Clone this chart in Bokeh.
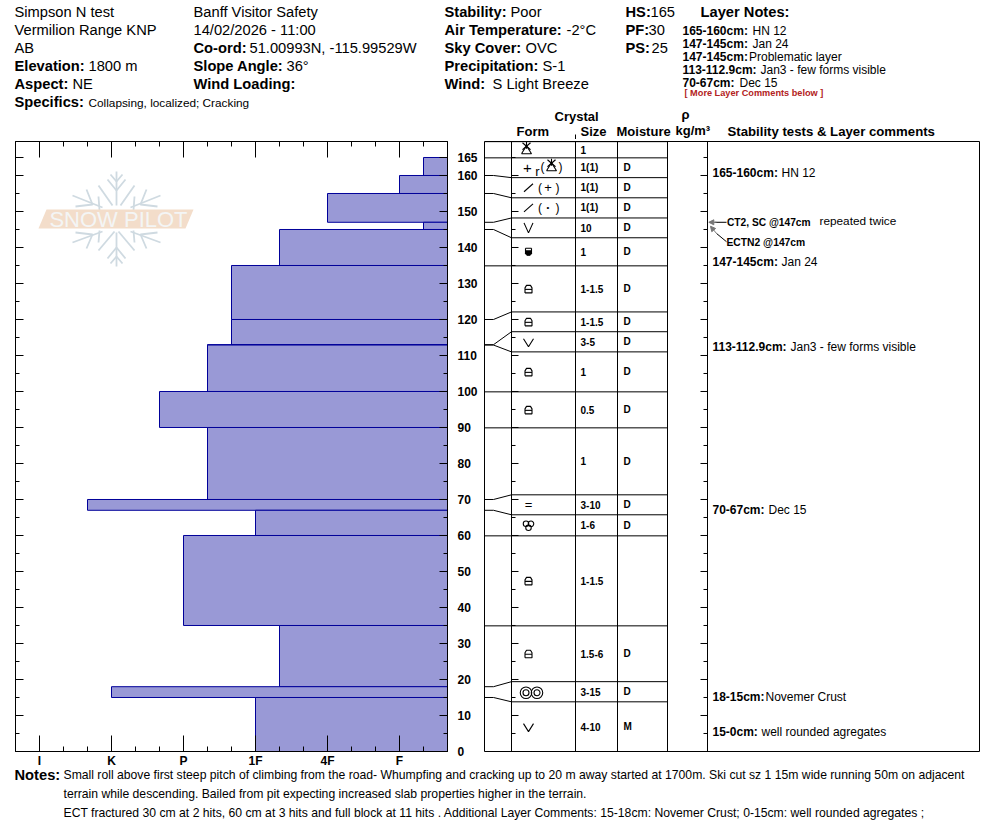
from bokeh.plotting import figure
from bokeh.layouts import column, row
from bokeh.models import Range1d, LinearAxis, FixedTicker, Arrow, NormalHead
from bokeh.core.properties import value
from bokeh.embed import file_html
from bokeh.resources import INLINE

FONT = "Liberation Sans"
INK = "#000000"

# ---------- data ----------
layer_top = [165, 160, 155, 147, 145, 135, 120, 113, 112.9, 100, 90, 70, 67, 60, 35, 18, 15]
layer_bottom = [160, 155, 147, 145, 135, 120, 113, 112.9, 100, 90, 70, 67, 60, 35, 18, 15, 0]
hardness = [16, 15, 12, 16, 10, 8, 8, 7, 7, 5, 7, 2, 9, 6, 10, 3, 9]
hardness_ticks = [0, 3, 6, 9, 12, 15]
hardness_labels = ["I", "K", "P", "1F", "4F", "F"]
hardness_minor = [1, 2, 4, 5, 7, 8, 10, 11, 13, 14, 16]
depth_major = [0, 10, 20, 30, 40, 50, 60, 70, 80, 90, 100, 110, 120, 130, 140, 150, 160, 165]
depth_minor = [5, 15, 25, 35, 45, 55, 65, 75, 85, 95, 105, 115, 125, 135, 145, 155]
depth_labels = {165: "165", 160: "160", 150: "150", 140: "140", 130: "130", 120: "120", 110: "110",
                100: "100", 90: "90", 80: "80", 70: "70", 60: "60", 50: "50", 40: "40", 30: "30",
                20: "20", 10: "10", 0: "0"}

# table row boundaries (cm on the shared depth scale, rows have a minimum display height)
row_edges = [169.4, 164.9, 159.4, 153.8, 148.2, 142.7, 134.9, 122.1, 116.6, 111.0,
             99.9, 89.9, 71.3, 65.75, 59.9, 34.9, 19.4, 13.8, 0]
sizes = ["1", "1(1)", "1(1)", "1(1)", "10", "1", "1-1.5", "1-1.5", "3-5", "1", "0.5", "1",
         "3-10", "1-6", "1-1.5", "1.5-6", "3-15", "4-10"]
moisture = ["", "D", "D", "D", "D", "D", "D", "D", "D", "D", "D", "D", "D", "D", "", "D", "D", "M"]
forms = ["star", "plus_star", "slash_plus", "slash_dot", "bigv", "cup", "lock", "lock", "v", "lock",
         "lock", "", "eq", "clover", "lock", "lock", "rings", "v"]
# connector: layer depth -> table edge
conn_from = [160, 155, 147, 145, 120, 113, 112.9, 70, 67, 18, 15]
conn_to = [159.4, 153.8, 148.2, 142.7, 122.1, 116.6, 111.0, 71.3, 65.75, 19.4, 13.8]
straight_edges = [169.4, 164.9, 134.9, 99.9, 89.9, 59.9, 34.9, 0]

comments = [(160.6, "165-160cm:", "HN 12", 781), (135.9, "147-145cm:", "Jan 24", 781),
            (112.3, "113-112.9cm:", "Jan3 - few forms visible", 790), (67.1, "70-67cm:", "Dec 15", 768),
            (15.2, "18-15cm:", "Novemer Crust", 765), (5.3, "15-0cm:", "well rounded agregates", 761)]

H, N = 14.7, 12
header = [
    (14, 12, "Simpson N test", False, H), (14, 30, "Vermilion Range KNP", False, H), (14, 48, "AB", False, H),
    (14, 66, "Elevation:", True, H), (88, 66, "1800 m", False, H),
    (14, 84, "Aspect:", True, H), (72, 84, "NE", False, H),
    (14, 102, "Specifics:", True, H), (88, 103, "Collapsing, localized; Cracking", False, 11.8),
    (193, 12, "Banff  Visitor Safety", False, H), (193, 30, "14/02/2026 - 11:00", False, H),
    (193, 48, "Co-ord:", True, H), (249, 48, "51.00993N, -115.99529W", False, H),
    (193, 66, "Slope Angle:", True, H), (286, 66, "36\u00b0", False, H),
    (193, 84, "Wind Loading:", True, H),
    (444, 12, "Stability:", True, H), (510, 12, "Poor", False, H),
    (444, 30, "Air Temperature:", True, H), (566, 30, "-2\u00b0C", False, H),
    (444, 48, "Sky Cover:", True, H), (525, 48, "OVC", False, H),
    (444, 66, "Precipitation:", True, H), (542, 66, "S-1", False, H),
    (444, 84, "Wind:", True, H), (492, 84, "S Light Breeze", False, H),
    (625, 12, "HS:", True, H), (650, 12, "165", False, H),
    (625, 30, "PF:", True, H), (648, 30, "30", False, H),
    (625, 48, "PS:", True, H), (651, 48, "25", False, H),
    (700, 12, "Layer Notes:", True, H),
    (682, 31, "165-160cm:", True, N), (752, 31, "HN 12", False, N),
    (682, 44, "147-145cm:", True, N), (752, 44, "Jan 24", False, N),
    (682, 57, "147-145cm:", True, N), (748.5, 57, "Problematic layer", False, N),
    (682, 70, "113-112.9cm:", True, N), (760, 70, "Jan3 - few forms visible", False, N),
    (682, 83, "70-67cm:", True, N), (739, 83, "Dec 15", False, N),
]
red_note = "[ More Layer Comments below ]"
col_heads = [(554, 117, "Crystal"), (516, 132, "Form"), (580, 132, "Size"), (616, 132, "Moisture"),
             (681, 115, "\u03c1"), (675, 131, "kg/m\u00b3"), (727, 132, "Stability tests & Layer comments")]

notes_label = "Notes:"
notes_lines = [
    (775, "Small roll above first steep pitch of climbing from the road- Whumpfing and cracking up to 20 m away started at 1700m. Ski cut sz 1 15m wide running 50m on adjacent"),
    (794, "terrain while descending.  Bailed from pit expecting increased slab properties higher in the terrain."),
    (813, "ECT fractured 30 cm at 2 hits, 60 cm at 3 hits and full block at 11 hits . Additional Layer Comments: 15-18cm: Novemer Crust; 0-15cm: well rounded agregates ;"),
]


def px_fig(width, height, x0, x1, y0, y1):
    f = figure(width=width, height=height, x_range=Range1d(x0, x1), y_range=Range1d(y1, y0),
               toolbar_location=None, output_backend="svg", min_border=0,
               x_axis_type=None, y_axis_type=None, outline_line_color=None)
    f.grid.visible = False
    return f


def put_text(f, xs, ys, texts, size, bold=False, color=INK, align="left", baseline="middle", **kw):
    f.text(x=xs, y=ys, text=texts, text_font=value(FONT), text_font_size=f"{size}px",
           text_font_style="bold" if bold else "normal", text_color=color,
           text_align=align, text_baseline=baseline, **kw)


# ---------- header (page y 0..139, drawn one pixel higher for the font's baseline) ----------
head = px_fig(990, 139, 0, 990, 1, 140)
for x, y, t, b, s in header:
    put_text(head, [x], [y], [t], s, bold=b)
put_text(head, [684], [93], [red_note], 9.2, bold=True, color="#b22222")
for x, y, t in col_heads:
    put_text(head, [x], [y], [t], 13.2 if x == 727 else 13, bold=True)
head.segment([575], [135], [575], [140], line_color=INK, line_width=1)

# ---------- profile ----------
prof = figure(width=484, height=629, x_range=Range1d(-1, 17), y_range=Range1d(0, 169.44),
              toolbar_location=None, output_backend="svg", x_axis_type=None, y_axis_type=None,
              min_border_left=15, min_border_right=37, min_border_top=2, min_border_bottom=17,
              frame_width=432, frame_height=610, outline_line_color=INK)
prof.grid.visible = False

# watermark on its own pixel scale
prof.extra_x_ranges["wx"] = Range1d(15, 447)
prof.extra_y_ranges["wy"] = Range1d(751, 141)
cx = 116
arms = [[(cx, 171), (cx, 205)], [(cx - 9, 179), (cx, 190), (cx + 9, 179)], [(cx - 6, 174), (cx, 181), (cx + 6, 174)],
        [(cx - 18, 185), (cx - 4, 205)], [(cx + 18, 185), (cx + 4, 205)],
        [(cx, 266), (cx, 232)], [(cx - 9, 258), (cx, 247), (cx + 9, 258)], [(cx - 6, 263), (cx, 256), (cx + 6, 263)],
        [(cx - 18, 250), (cx - 2, 231)], [(cx + 18, 250), (cx + 2, 231)],
        [(72, 195), (102, 207)], [(75, 206), (92, 204), (86, 189)], [(98, 196), (99, 210)],
        [(160, 195), (130, 207)], [(157, 206), (140, 204), (146, 189)], [(134, 196), (133, 210)],
        [(72, 242), (102, 231)], [(75, 232), (92, 234), (86, 248)], [(98, 242), (99, 230)],
        [(160, 242), (130, 231)], [(157, 232), (140, 234), (146, 248)], [(134, 242), (133, 230)]]
prof.multi_line([[p[0] for p in l] for l in arms], [[p[1] for p in l] for l in arms],
                line_color="#cfdae1", line_width=1.8, x_range_name="wx", y_range_name="wy")
prof.patch([46, 193, 185, 38], [209, 209, 228, 228], fill_color="#f3ddca", line_color=None,
           x_range_name="wx", y_range_name="wy")
put_text(prof, [118], [219], ["SNOW PILOT"], 22, color="#f4f5f5", align="center", x_range_name="wx", y_range_name="wy")

prof.quad(left=hardness, right=[17] * len(hardness), top=layer_top, bottom=layer_bottom,
          fill_color="#9999d6", line_color="#000099", line_width=1)

tick_font = dict(major_label_text_font=FONT, major_label_text_font_style="bold",
                 major_label_text_color=INK, major_label_text_font_size="12px",
                 axis_line_color=INK, major_tick_line_color=INK, minor_tick_line_color=INK)
no_x = {t: "" for t in hardness_ticks}
no_y = {t: "" for t in depth_major}

bottom = LinearAxis(ticker=FixedTicker(ticks=hardness_ticks, minor_ticks=hardness_minor),
                    major_label_overrides=dict(zip(hardness_ticks, hardness_labels)),
                    major_tick_in=16, major_tick_out=0, minor_tick_in=5, minor_tick_out=0,
                    major_label_standoff=2, **tick_font)
top = LinearAxis(ticker=FixedTicker(ticks=hardness_ticks, minor_ticks=hardness_minor),
                 major_label_overrides=no_x, major_tick_in=16, major_tick_out=0,
                 minor_tick_in=5, minor_tick_out=0, axis_line_color=INK, major_label_standoff=0)
left = LinearAxis(ticker=FixedTicker(ticks=depth_major, minor_ticks=depth_minor),
                  major_label_overrides=no_y, major_tick_in=8, major_tick_out=0,
                  minor_tick_in=4, minor_tick_out=0, axis_line_color=INK, major_label_standoff=0)
right = LinearAxis(ticker=FixedTicker(ticks=depth_major, minor_ticks=depth_minor),
                   major_label_overrides=depth_labels, major_tick_in=8, major_tick_out=0,
                   minor_tick_in=4, minor_tick_out=0, major_label_standoff=10, **tick_font)
prof.add_layout(bottom, "below")
prof.add_layout(top, "above")
prof.add_layout(left, "left")
prof.add_layout(right, "right")

# ---------- table ----------
tab = figure(width=506, height=629, x_range=Range1d(484, 979), y_range=Range1d(0, 169.44),
             toolbar_location=None, output_backend="svg", x_axis_type=None, y_axis_type=None,
             min_border_left=0, min_border_right=11, min_border_top=2, min_border_bottom=17,
             frame_width=495, frame_height=610, outline_line_color=INK)
tab.grid.visible = False

X_FORM, X_SIZE, X_MOIST, X_DENS, X_COMM = 511, 575, 617, 667, 707
for xv in (X_FORM, X_SIZE, X_MOIST, X_DENS, X_COMM):
    tab.segment([xv], [0], [xv], [169.44], line_color=INK, line_width=1)
# horizontal edges
tab.segment([X_FORM] * len(row_edges), row_edges, [X_DENS] * len(row_edges), row_edges, line_color=INK)
tab.segment([484] * len(straight_edges), straight_edges, [X_FORM] * len(straight_edges), straight_edges, line_color=INK)
# connectors
tab.multi_line([[484, 493, X_FORM] for _ in conn_from],
               [[a, a, b] for a, b in zip(conn_from, conn_to)], line_color=INK)
# ticks on the form and density columns
t10 = [d for d in depth_major if d % 10 == 0 and d > 0]
t5 = depth_minor + [165]
tab.segment([X_FORM] * len(t10), t10, [X_FORM + 7] * len(t10), t10, line_color=INK)
tab.segment([X_FORM] * len(t5), t5, [X_FORM + 4] * len(t5), t5, line_color=INK)
tab.segment([X_COMM] * len(t10), t10, [X_COMM - 7] * len(t10), t10, line_color=INK)
tab.segment([X_COMM] * len(t5), t5, [X_COMM - 4] * len(t5), t5, line_color=INK)

mid = [(a + b) / 2 for a, b in zip(row_edges[:-1], row_edges[1:])]
put_text(tab, [580] * len(sizes), mid, sizes, 10, bold=True)
m_i = [i for i, m in enumerate(moisture) if m]
put_text(tab, [623] * len(m_i), [mid[i] for i in m_i], [moisture[i] for i in m_i], 10, bold=True)

CM = 3.6  # px per cm of the shared depth scale


def star_tri(x, d):
    return [[(x - 4, d + 6 / CM), (x + 4, d - 1 / CM)], [(x + 4, d + 6 / CM), (x - 4, d - 1 / CM)],
            [(x, d + 7 / CM), (x, d - 0 / CM)],
            [(x - 5, d - 5 / CM), (x, d + 3 / CM), (x + 5, d - 5 / CM), (x - 5, d - 5 / CM)]]


def vee(x, d, w, h):
    return [[(x - w, d + h / CM), (x, d - h / CM), (x + w, d + h / CM)]]


def slash(x, d):
    return [[(x - 4.5, d - 4 / CM), (x + 4.5, d + 4 / CM)]]


polys, filled = [], []
small_text = []
circles_x, circles_y, circles_r = [], [], []
for kind, d in zip(forms, mid):
    x = 528
    if kind == "star":
        polys += star_tri(526, d + 1 / CM)
    elif kind == "plus_star":
        small_text += [(527, d, "+", 15), (537, d - 4 / CM, "r", 13), (542, d + 1 / CM, "(", 12), (560, d + 1 / CM, ")", 12)]
        polys += star_tri(551, d + 2 / CM)
    elif kind == "slash_plus":
        polys += slash(x, d)
        small_text += [(539.5, d, "(", 12), (547.5, d, "+", 13), (557, d, ")", 12)]
    elif kind == "slash_dot":
        polys += slash(x, d)
        small_text += [(539.5, d, "(", 12), (547.5, d, "\u2022", 8), (557, d, ")", 12)]
    elif kind == "bigv":
        polys += vee(x, d, 4.5, 5)
    elif kind == "v":
        polys += vee(x, d - 1 / CM, 5, 4)
    elif kind == "eq":
        small_text += [(x, d, "=", 13)]
    elif kind == "lock":
        polys += [[(x - 3.5, d - 4 / CM), (x + 3.5, d - 4 / CM), (x + 3.5, d + 1 / CM), (x + 2, d + 3.5 / CM),
                   (x - 2, d + 3.5 / CM), (x - 3.5, d + 1 / CM), (x - 3.5, d - 4 / CM)],
                  [(x - 3.5, d - 0.5 / CM), (x + 3.5, d - 0.5 / CM)]]
    elif kind == "cup":
        polys += [[(x - 3, d + 3.5 / CM), (x + 3, d + 3.5 / CM)], [(x - 3, d + 3.5 / CM), (x - 3, d - 2 / CM)],
                  [(x + 3, d + 3.5 / CM), (x + 3, d - 2 / CM)]]
        filled += [[(x - 3, d + 1 / CM), (x + 3, d + 1 / CM), (x + 3, d - 2 / CM), (x + 1.5, d - 3.5 / CM),
                    (x - 1.5, d - 3.5 / CM), (x - 3, d - 2 / CM)]]
    elif kind == "clover":
        circles_x += [x - 2.5, x + 2.5, x]
        circles_y += [d + 1.5 / CM, d + 1.5 / CM, d - 2.5 / CM]
        circles_r += [5.5, 5.5, 5.5]
    elif kind == "rings":
        circles_x += [531 - 5.5, 531 + 5.5, 531 - 5.5, 531 + 5.5]
        circles_y += [d - 1 / CM] * 4
        circles_r += [11.5, 11.5, 6, 6]

tab.multi_line([[p[0] for p in l] for l in polys], [[p[1] for p in l] for l in polys], line_color=INK, line_width=1.1)
tab.patches([[p[0] for p in l] for l in filled], [[p[1] for p in l] for l in filled], fill_color=INK, line_color=INK)
tab.scatter(circles_x, circles_y, size=circles_r, marker="circle", fill_color=None, line_color=INK, line_width=1.1)
for x, d, t, s in small_text:
    put_text(tab, [x], [d], [t], s, align="center")

# comments
for d, a, b, off in comments:
    put_text(tab, [712], [d], [a], 12, bold=True)
    put_text(tab, [off], [d], [b], 12)
put_text(tab, [726.5], [147.0], ["CT2, SC @147cm"], 10.2, bold=True)
put_text(tab, [819], [147.3], ["repeated twice"], 11.8)
put_text(tab, [726], [141.5], ["ECTN2 @147cm"], 10.3, bold=True)
tab.segment([714], [147.0], [726], [147.0], line_color=INK)
tab.segment([716], [143.9], [726], [141.6], line_color=INK)
for x0, y0, x1, y1 in ((716, 147.0, 708.3, 147.0), (716, 143.9, 710, 145.9)):
    tab.add_layout(Arrow(end=NormalHead(size=5, fill_color="#777777", line_color="#777777"),
                         x_start=x0, y_start=y0, x_end=x1, y_end=y1, line_color="#777777", line_width=1))

# ---------- footer: pulled up over the spare strip of the row above ----------
foot = px_fig(990, 68, 0, 990, 768, 836)
foot.margin = (-3, 0, 0, 0)
put_text(foot, [14], [775], [notes_label], 14.7, bold=True)
for y, t in notes_lines:
    put_text(foot, [63], [y], [t], 12.2)

page = column(head, row(prof, tab), foot)
open("out.html", "w").write(file_html(page, INLINE))
